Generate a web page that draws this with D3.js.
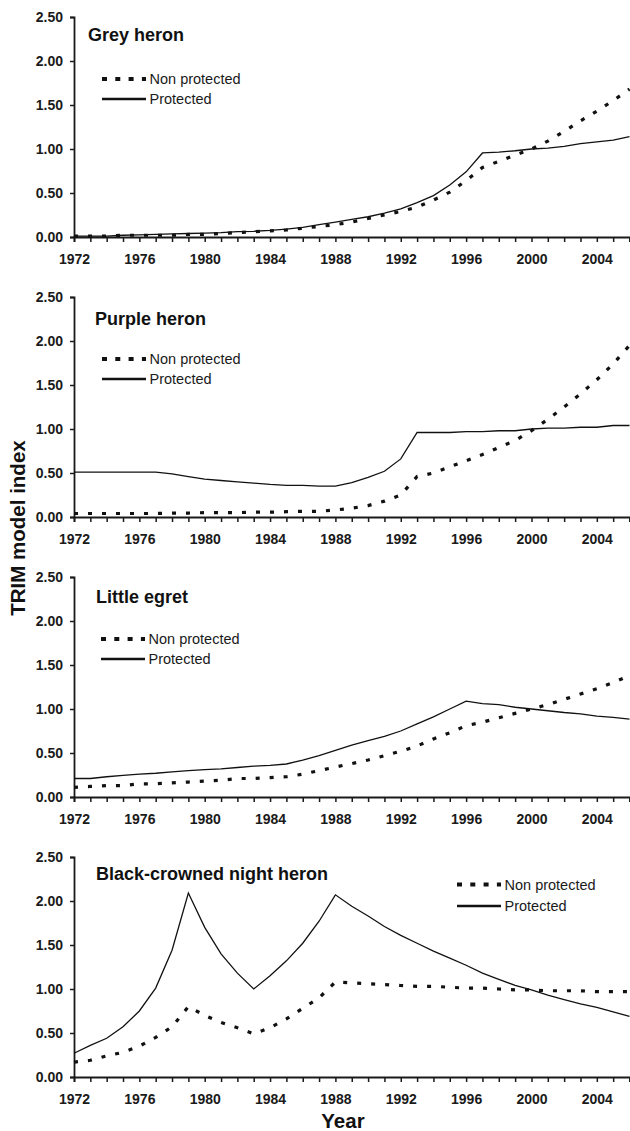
<!DOCTYPE html>
<html>
<head>
<meta charset="utf-8">
<script src="https://cdn.jsdelivr.net/npm/d3@7"></script>
<style>
  html, body { margin: 0; padding: 0; background: #fff; }
  svg { display: block; }
  .tick text { font-family: "Liberation Sans", Arial, sans-serif; font-weight: bold; font-size: 14px; fill: #1a1a1a; }
</style>
</head>
<body>
<svg id="chart" width="630" height="1131"></svg>
<script>
// Years covered by the TRIM indices
const years = [1972, 1973, 1974, 1975, 1976, 1977, 1978, 1979, 1980, 1981, 1982, 1983,
  1984, 1985, 1986, 1987, 1988, 1989, 1990, 1991, 1992, 1993, 1994, 1995, 1996, 1997,
  1998, 1999, 2000, 2001, 2002, 2003, 2004, 2005, 2006];
const yearLabels = [1972, 1976, 1980, 1984, 1988, 1992, 1996, 2000, 2004];
const indexTicks = [0, 0.5, 1, 1.5, 2, 2.5];

// Grey heron
const greyNonProtected = [0.01, 0.01, 0.01, 0.02, 0.02, 0.02, 0.02, 0.03, 0.03, 0.04, 0.05, 0.06,
  0.07, 0.08, 0.10, 0.12, 0.14, 0.17, 0.21, 0.25, 0.29, 0.34, 0.42, 0.51, 0.64, 0.79,
  0.86, 0.93, 1.00, 1.09, 1.20, 1.32, 1.43, 1.55, 1.68];
const greyProtected = [0.01, 0.01, 0.01, 0.02, 0.025, 0.03, 0.035, 0.04, 0.045, 0.05, 0.06, 0.065,
  0.075, 0.09, 0.11, 0.14, 0.17, 0.20, 0.23, 0.27, 0.32, 0.39, 0.47, 0.59, 0.74, 0.955,
  0.965, 0.98, 1.00, 1.01, 1.03, 1.06, 1.08, 1.10, 1.14];

// Purple heron
const purpleNonProtected = [0.04, 0.04, 0.04, 0.04, 0.04, 0.04, 0.045, 0.045, 0.05, 0.05, 0.05, 0.055,
  0.055, 0.06, 0.065, 0.065, 0.08, 0.10, 0.13, 0.18, 0.25, 0.46, 0.50, 0.57, 0.64, 0.71,
  0.79, 0.87, 0.98, 1.11, 1.25, 1.40, 1.56, 1.74, 1.95];
const purpleProtected = [0.51, 0.51, 0.51, 0.51, 0.51, 0.51, 0.49, 0.46, 0.43, 0.415, 0.40, 0.385,
  0.37, 0.36, 0.36, 0.35, 0.35, 0.39, 0.45, 0.52, 0.66, 0.96, 0.96, 0.96, 0.97, 0.97,
  0.98, 0.98, 1.00, 1.01, 1.01, 1.02, 1.02, 1.04, 1.04];

// Little egret
const egretNonProtected = [0.11, 0.12, 0.13, 0.13, 0.15, 0.15, 0.16, 0.17, 0.18, 0.19, 0.21, 0.21,
  0.22, 0.23, 0.26, 0.30, 0.34, 0.38, 0.42, 0.47, 0.52, 0.58, 0.66, 0.73, 0.81, 0.85,
  0.90, 0.95, 1.00, 1.05, 1.11, 1.17, 1.23, 1.30, 1.38];
const egretProtected = [0.21, 0.21, 0.23, 0.245, 0.26, 0.27, 0.285, 0.30, 0.31, 0.32, 0.335, 0.35,
  0.36, 0.375, 0.42, 0.47, 0.53, 0.59, 0.64, 0.69, 0.75, 0.83, 0.91, 1.00, 1.09, 1.06,
  1.05, 1.02, 1.00, 0.98, 0.96, 0.945, 0.92, 0.905, 0.885];

// Black-crowned night heron
const nightNonProtected = [0.17, 0.19, 0.24, 0.28, 0.35, 0.45, 0.57, 0.80, 0.70, 0.62, 0.56, 0.49,
  0.56, 0.66, 0.78, 0.90, 1.08, 1.07, 1.06, 1.05, 1.04, 1.03, 1.03, 1.02, 1.01, 1.01,
  1.00, 0.99, 0.99, 0.98, 0.98, 0.98, 0.97, 0.97, 0.97];
const nightProtected = [0.27, 0.36, 0.44, 0.57, 0.75, 1.01, 1.44, 2.09, 1.70, 1.40, 1.18, 1.00,
  1.15, 1.32, 1.52, 1.77, 2.07, 1.94, 1.83, 1.71, 1.61, 1.52, 1.43, 1.35, 1.27, 1.18,
  1.11, 1.04, 0.99, 0.93, 0.88, 0.83, 0.79, 0.74, 0.69];

const seriesNames = ["Non protected", "Protected"];

const panels = [
  { title: "Grey heron", non: greyNonProtected, prot: greyProtected,
    titleX: 88, titleDy: 24, legendX: 102, legendDy: [62, 82] },
  { title: "Purple heron", non: purpleNonProtected, prot: purpleProtected,
    titleX: 95, titleDy: 28, legendX: 102, legendDy: [62, 82] },
  { title: "Little egret", non: egretNonProtected, prot: egretProtected,
    titleX: 96, titleDy: 25.5, legendX: 101, legendDy: [62, 82] },
  { title: "Black-crowned night heron", non: nightNonProtected, prot: nightProtected,
    titleX: 96, titleDy: 23, legendX: 457, legendDy: [27.5, 49] }
];

const svg = d3.select("#chart");
const font = '"Liberation Sans", Arial, sans-serif';

const left = 74, right = 629.5;
const panelTop0 = 17, panelStep = 280, panelHeight = 220;

const x = d3.scaleLinear().domain([1972, 2006]).range([left, right]);

panels.forEach((p, i) => {
  const top = panelTop0 + i * panelStep;
  const bottom = top + panelHeight;
  const y = d3.scaleLinear().domain([0, 2.5]).range([bottom, top]);
  const g = svg.append("g");

  // y axis
  const yAxis = g.append("g")
    .attr("transform", `translate(${left},0)`)
    .call(d3.axisLeft(y).tickValues(indexTicks).tickFormat(d3.format(".2f"))
      .tickSize(4).tickPadding(7));
  yAxis.select(".domain").attr("stroke", "#1a1a1a").attr("stroke-width", 1.8);
  yAxis.selectAll(".tick line").attr("stroke", "#1a1a1a").attr("stroke-width", 1.5);

  // x axis
  const xAxis = g.append("g")
    .attr("transform", `translate(0,${bottom})`)
    .call(d3.axisBottom(x).tickValues(years)
      .tickFormat(d => yearLabels.includes(d) ? String(d) : "")
      .tickSize(5).tickPadding(12));
  xAxis.select(".domain").attr("stroke", "#1a1a1a").attr("stroke-width", 1.8);
  xAxis.selectAll(".tick line").attr("stroke", "#1a1a1a").attr("stroke-width", 1.5);

  const line = d3.line()
    .x((d, k) => x(years[k]))
    .y(d => y(d));

  // Protected (solid)
  g.append("path")
    .datum(p.prot)
    .attr("d", line)
    .attr("fill", "none")
    .attr("stroke", "#111")
    .attr("stroke-width", 1.3);

  // Non protected (dotted)
  g.append("path")
    .datum(p.non)
    .attr("d", line)
    .attr("fill", "none")
    .attr("stroke", "#111")
    .attr("stroke-width", 3.2)
    .attr("stroke-dasharray", "4,10");

  // Title
  g.append("text")
    .attr("x", p.titleX)
    .attr("y", top + p.titleDy)
    .attr("font-family", font)
    .attr("font-weight", "bold")
    .attr("font-size", 18)
    .attr("fill", "#111")
    .text(p.title);

  // Legend
  const lg = g.append("g");
  seriesNames.forEach((name, k) => {
    const ly = top + p.legendDy[k];
    lg.append("line")
      .attr("x1", p.legendX).attr("x2", p.legendX + 44)
      .attr("y1", ly).attr("y2", ly)
      .attr("stroke", "#111")
      .attr("stroke-width", k === 0 ? 4 : 2.6)
      .attr("stroke-dasharray", k === 0 ? "5,8.3" : null);
    lg.append("text")
      .attr("x", p.legendX + 47.5)
      .attr("y", ly + 5)
      .attr("font-family", font)
      .attr("font-size", 14.5)
      .attr("fill", "#1a1a1a")
      .text(name);
  });
});

// Axis titles
svg.append("text")
  .attr("transform", "translate(25,528) rotate(-90)")
  .attr("text-anchor", "middle")
  .attr("font-family", font)
  .attr("font-weight", "bold")
  .attr("font-size", 20.5)
  .attr("fill", "#111")
  .text("TRIM model index");

svg.append("text")
  .attr("x", 343)
  .attr("y", 1128)
  .attr("text-anchor", "middle")
  .attr("font-family", font)
  .attr("font-weight", "bold")
  .attr("font-size", 20.5)
  .attr("fill", "#111")
  .text("Year");
</script>
</body>
</html>
